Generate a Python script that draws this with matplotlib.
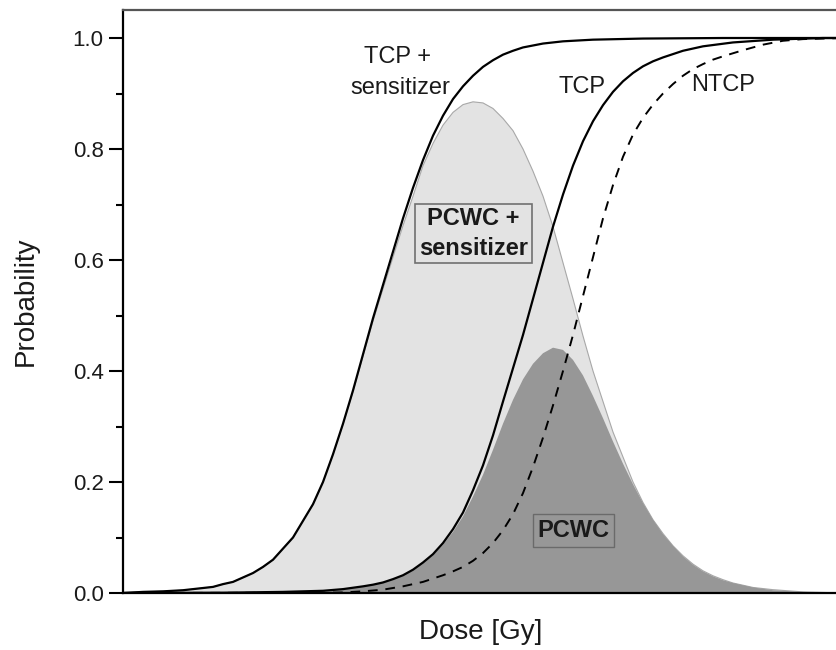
import matplotlib
matplotlib.use("Agg")
import matplotlib.pyplot as plt

plt.rcParams["font.family"] = ["Liberation Sans", "DejaVu Sans"]

# === data (dose in arbitrary units) ===
dose_tcp_s = [0, 2, 4, 6, 8, 9, 10, 11, 12, 13, 14, 15, 16, 17, 18, 19, 20, 21, 22, 23, 24,
              25, 26, 27, 28, 29, 30, 31, 32, 33, 34, 35, 36, 37, 38, 39, 40, 42, 44, 47,
              52, 60, 72]
tcp_s = [0.0, 0.002, 0.003, 0.005, 0.009, 0.011, 0.016, 0.02, 0.028, 0.036, 0.047, 0.06,
         0.08, 0.10, 0.13, 0.16, 0.2, 0.25, 0.305, 0.365, 0.43, 0.495, 0.555, 0.615, 0.675,
         0.73, 0.78, 0.824, 0.86, 0.89, 0.913, 0.932, 0.948, 0.96, 0.97, 0.977, 0.983,
         0.99, 0.994, 0.997, 0.999, 1.0, 1.0]

dose_tcp = [0, 10, 16, 20, 22, 24, 25, 26, 27, 28, 29, 30, 31, 32, 33, 34, 35, 36, 37, 38,
            39, 40, 41, 42, 43, 44, 45, 46, 47, 48, 49, 50, 51, 52, 53, 54, 56, 58, 61, 65,
            70, 72]
tcp = [0.0, 0.0005, 0.002, 0.004, 0.007, 0.012, 0.015, 0.019, 0.025, 0.032, 0.042, 0.055,
       0.07, 0.09, 0.115, 0.145, 0.185, 0.23, 0.284, 0.345, 0.405, 0.465, 0.53, 0.595,
       0.66, 0.718, 0.77, 0.814, 0.85, 0.879, 0.903, 0.922, 0.937, 0.949, 0.958, 0.965,
       0.977, 0.985, 0.992, 0.997, 1.0, 1.0]

dose_ntcp = [0, 20, 22, 24, 26, 28, 30, 31, 32, 33, 34, 35, 36, 37, 38, 39, 40, 41, 42, 43,
             44, 45, 46, 47, 48, 49, 50, 51, 52, 53, 54, 55, 56, 57, 58, 59, 60, 62, 64,
             66, 68, 72]
ntcp = [0.0, 0.0005, 0.001, 0.003, 0.006, 0.012, 0.02, 0.026, 0.032, 0.039, 0.047, 0.058,
        0.072, 0.09, 0.113, 0.142, 0.18, 0.227, 0.28, 0.338, 0.4, 0.465, 0.535, 0.605,
        0.675, 0.735, 0.786, 0.826, 0.856, 0.88, 0.9, 0.917, 0.932, 0.944, 0.953, 0.961,
        0.967, 0.978, 0.988, 0.995, 0.998, 1.0]

dose_pcwc_s = [0, 2, 4, 6, 8, 9, 10, 11, 12, 13, 14, 15, 16, 17, 18, 19, 20, 21, 22, 23,
               24, 25, 26, 27, 28, 29, 30, 31, 32, 33, 34, 35, 36, 37, 38, 39, 40, 41, 42,
               43, 44, 45, 46, 47, 48, 49, 50, 51, 52, 53, 54, 55, 56, 57, 58, 59, 60, 61,
               63, 65, 68, 72]
pcwc_s = [0.0, 0.002, 0.003, 0.005, 0.009, 0.011, 0.016, 0.02, 0.028, 0.036, 0.047, 0.06,
          0.08, 0.10, 0.13, 0.16, 0.2, 0.25, 0.304, 0.363, 0.427, 0.49, 0.548, 0.605, 0.662,
          0.715, 0.77, 0.81, 0.843, 0.866, 0.88, 0.885, 0.883, 0.873, 0.855, 0.833, 0.8,
          0.76, 0.715, 0.66, 0.595, 0.53, 0.463, 0.4, 0.345, 0.29, 0.245, 0.2, 0.163,
          0.132, 0.107, 0.085, 0.067, 0.052, 0.04, 0.031, 0.024, 0.018, 0.01, 0.006,
          0.002, 0.0]

dose_pcwc = [0, 16, 20, 22, 24, 26, 28, 29, 30, 31, 32, 33, 34, 35, 36, 37, 38, 39, 40, 41,
             42, 43, 44, 45, 46, 47, 48, 49, 50, 51, 52, 53, 54, 55, 56, 57, 58, 59, 60,
             61, 63, 65, 68, 72]
pcwc = [0.0, 0.002, 0.004, 0.007, 0.012, 0.019, 0.031, 0.041, 0.054, 0.068, 0.087, 0.11,
        0.138, 0.174, 0.213, 0.258, 0.305, 0.348, 0.385, 0.413, 0.432, 0.442, 0.438, 0.42,
        0.392, 0.355, 0.315, 0.273, 0.233, 0.196, 0.162, 0.132, 0.106, 0.085, 0.066,
        0.051, 0.039, 0.03, 0.023, 0.018, 0.01, 0.005, 0.002, 0.0]

# === figure ===
fig = plt.figure(figsize=(8.36, 6.5), dpi=100)
ax = fig.add_axes([123 / 836, 1 - 593 / 650, (838 - 123) / 836, (593 - 10.25) / 650])

light = "#e3e3e3"
dark = "#979797"
txt = "#1a1a1a"

ax.fill_between(dose_pcwc_s, pcwc_s, 0, facecolor=light, edgecolor="none", zorder=1)
ax.plot(dose_pcwc_s, pcwc_s, color="#a8a8a8", lw=0.8, zorder=1.5)
ax.fill_between(dose_pcwc, pcwc, 0, facecolor=dark, edgecolor="none", zorder=2)

ax.plot(dose_tcp_s, tcp_s, color="black", lw=1.6, zorder=3)
ax.plot(dose_tcp, tcp, color="black", lw=1.6, zorder=3)
ax.plot(dose_ntcp, ntcp, color="black", lw=1.4, ls=(0, (5, 4)), zorder=3)

ax.set_xlim(0, 71.5)
ax.set_ylim(0, 1.05)

# labels on the curves
ax.text(27.5, 0.966, "TCP +", ha="center", va="center", fontsize=17, color=txt)
ax.text(27.7, 0.910, "sensitizer", ha="center", va="center", fontsize=17, color=txt)
ax.text(45.9, 0.912, "TCP", ha="center", va="center", fontsize=17, color=txt)
ax.text(60.0, 0.915, "NTCP", ha="center", va="center", fontsize=17, color=txt)

ax.text(35.05, 0.648, "PCWC +\nsensitizer", ha="center", va="center", fontsize=17,
        fontweight="bold", linespacing=1.35, zorder=5, color=txt,
        bbox=dict(boxstyle="square,pad=0.15", facecolor=light, edgecolor="#707070", lw=1.2))
ax.text(45.05, 0.1126, "PCWC", ha="center", va="center", fontsize=17, fontweight="bold",
        zorder=5, color=txt,
        bbox=dict(boxstyle="square,pad=0.2", facecolor=dark, edgecolor="#6a6a6a", lw=1.0))

# axes styling
ax.set_yticks([0.0, 0.2, 0.4, 0.6, 0.8, 1.0])
ax.set_yticks([0.1, 0.3, 0.5, 0.7, 0.9], minor=True)
ax.set_yticklabels(["0.0", "0.2", "0.4", "0.6", "0.8", "1.0"], fontsize=16, color=txt)
ax.set_xticks([])
ax.tick_params(axis="y", which="major", direction="out", length=10, width=1.5, pad=4)
ax.tick_params(axis="y", which="minor", direction="out", length=5, width=1.5)

ax.spines["right"].set_visible(False)
ax.spines["left"].set_linewidth(1.6)
ax.spines["bottom"].set_linewidth(1.6)
ax.spines["top"].set_linewidth(1.6)
ax.spines["top"].set_color("#555555")

ax.set_ylabel("Probability", fontsize=20, labelpad=24, color=txt)
ax.set_xlabel("Dose [Gy]", fontsize=20, labelpad=19, color=txt)

fig.savefig("out.png", dpi=100)
